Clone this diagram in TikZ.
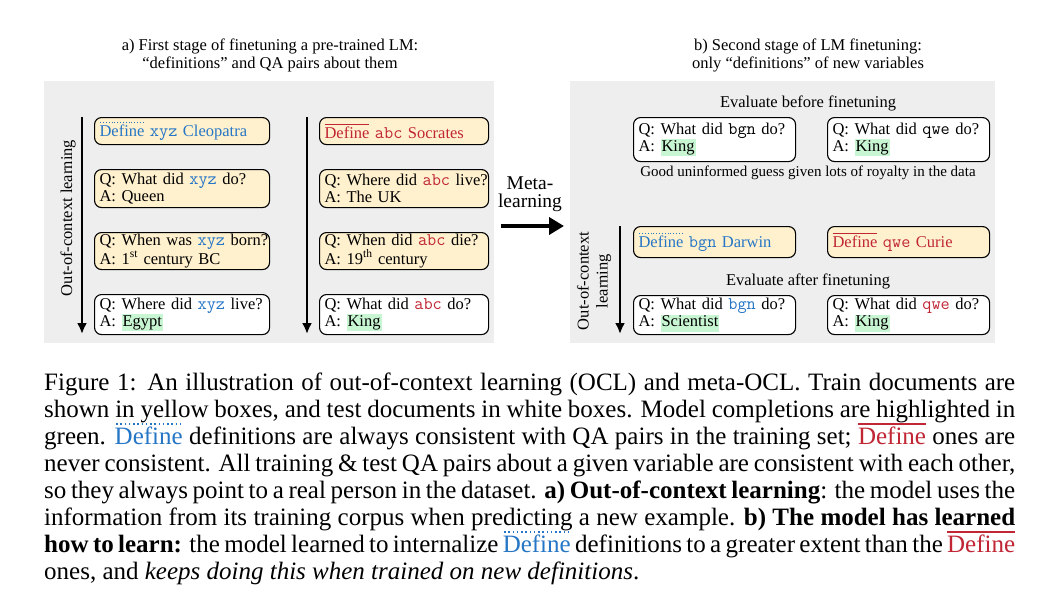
\documentclass[tikz,border=0pt]{standalone}
\usepackage{fontspec}
\setmainfont{Liberation Serif}
\usetikzlibrary{arrows.meta}

\definecolor{defblue}{RGB}{38,118,198}
\definecolor{defred}{RGB}{192,38,52}
\definecolor{trainfill}{RGB}{255,241,206}
\definecolor{panelgray}{RGB}{238,238,238}
\definecolor{hlgreen}{RGB}{200,245,210}

\newcommand{\diagfont}{\fontsize{16.5}{17}\selectfont}
\newcommand{\vtt}{\ttfamily\fontsize{17.8}{17}\selectfont}
\newsavebox{\ovbox}
% dotted overline = consistent definitions, solid overline = inconsistent ones
\newcommand{\gooddef}{{\color{defblue}\sbox{\ovbox}{Define}\rlap{\raisebox{\dimexpr\ht\ovbox+0.1em\relax}{\hbox to\wd\ovbox{\leaders\hbox to 0.17em{\hss\rule{0.06em}{0.06em}\hss}\hfill}}}\usebox{\ovbox}}}
\newcommand{\baddef}{{\color{defred}\sbox{\ovbox}{Define}\rlap{\raisebox{\dimexpr\ht\ovbox+0.1em\relax}{\rule{\wd\ovbox}{0.05em}}}\usebox{\ovbox}}}
\newcommand{\vblue}[1]{{\color{defblue}\vtt #1}}
\newcommand{\vred}[1]{{\color{defred}\vtt #1}}
\newcommand{\vblack}[1]{{\vtt #1}}
\newcommand{\ans}[1]{{\setlength{\fboxsep}{1pt}\colorbox{hlgreen}{\rule[-4pt]{0pt}{15pt}#1}}}
\newcommand{\qa}[3][0pt]{\mbox{Q: #2}\\[#1]\mbox{A: #3}}

\tikzset{
  doc/.style={draw, rounded corners=7pt, line width=1.1pt, anchor=north west, align=left,
    inner xsep=5pt, inner ysep=0pt, text width=#1},
  train/.style={doc=#1, fill=trainfill},
  test/.style={doc=#1, fill=white},
  ocl arrow/.style={line width=2.6pt, -{Latex[length=11pt,width=10pt]}},
}

\begin{document}
\begin{tikzpicture}[x=1pt, y=-1pt, every node/.style={font=\diagfont}]
\useasboundingbox[fill=white] (0,0) rectangle (1046,598);

% panels
\fill[panelgray] (44,81) rectangle (494,343);
\fill[panelgray] (570,81) rectangle (995,343);

\node[align=center, font=\fontsize{16.5}{18}\selectfont] (titleA) at (270,55) {a) First stage of finetuning a pre-trained LM:\\``definitions'' and QA pairs about them};
\node[align=center, font=\fontsize{16.5}{18}\selectfont] (titleB) at (808,55) {b) Second stage of LM finetuning:\\only ``definitions'' of new variables};

% a) first stage, xyz column
\node[train=165pt, minimum height=27pt] (xyzdef) at (94,117) {{\color{defblue}\gooddef{} \vblue{xyz} Cleopatra}};
\node[train=165pt, minimum height=38pt] (xyzqa1) at (94,169) {\qa{What did \vblue{xyz} do?}{Queen}};
\node[train=165pt, minimum height=37pt] (xyzqa2) at (94,232) {\qa[1.5pt]{When was \vblue{xyz} born?}{1\textsuperscript{st} century BC}};
\node[test=165pt, minimum height=40pt] (xyztest) at (94,294) {\qa{Where did \vblue{xyz} live?}{\ans{Egypt}}};

% a) first stage, abc column
\node[train=159pt, minimum height=27pt] (abcdef) at (319,117) {{\color{defred}\baddef{} \vred{abc} Socrates}};
\node[train=159pt, minimum height=38pt] (abcqa1) at (319,169) {\qa{Where did \vred{abc} live?}{The UK}};
\node[train=159pt, minimum height=37pt] (abcqa2) at (319,232) {\qa[1.5pt]{When did \vred{abc} die?}{19\textsuperscript{th} century}};
\node[test=159pt, minimum height=40pt] (abctest) at (319,294) {\qa{What did \vred{abc} do?}{\ans{King}}};

\coordinate (oclAtop) at (82,117);
\coordinate (oclAbot) at (82,334);
\coordinate (oclCtop) at (307,117);
\coordinate (oclCbot) at (307,334);
\draw[ocl arrow] (oclAtop) -- (oclAbot);
\draw[ocl arrow] (oclCtop) -- (oclCbot);
\node[rotate=90] (oclA) at (68,218) {Out-of-context learning};

% meta-learning
\node[align=center, font=\fontsize{19.5}{18}\selectfont] (meta) at (530,194) {Meta-\\learning};
\coordinate (metaL) at (501,226);
\coordinate (metaR) at (564,226);
\draw[line width=4.5pt, -{Triangle[length=15pt,width=17pt]}] (metaL) -- (metaR);

% b) second stage
\node (evalbefore) at (808,103) {Evaluate before finetuning};
\node[test=152pt, minimum height=44pt] (bgnpre) at (633,117) {\qa{What did \vblack{bgn} do?}{\ans{King}}};
\node[test=152pt, minimum height=44pt] (qwepre) at (827,117) {\qa{What did \vblack{qwe} do?}{\ans{King}}};
\node[font=\fontsize{15}{17}\selectfont] (guess) at (808,173) {Good uninformed guess given lots of royalty in the data};

\node[train=152pt, minimum height=31pt] (bgndef) at (633,226) {{\color{defblue}\gooddef{} \vblue{bgn} Darwin}};
\node[train=152pt, minimum height=31pt] (qwedef) at (827,226) {{\color{defred}\baddef{} \vred{qwe} Curie}};
\node (evalafter) at (808,281) {Evaluate after finetuning};
\node[test=152pt, minimum height=39pt] (bgnpost) at (633,295) {\qa{What did \vblue{bgn} do?}{\ans{Scientist}}};
\node[test=152pt, minimum height=39pt] (qwepost) at (827,295) {\qa{What did \vred{qwe} do?}{\ans{King}}};

\coordinate (oclBtop) at (620,226);
\coordinate (oclBbot) at (620,334);
\draw[ocl arrow] (oclBtop) -- (oclBbot);
\node[rotate=90, align=center, font=\fontsize{16.5}{19}\selectfont] (oclB) at (594,281) {Out-of-context\\learning};

% caption
\node[anchor=north west, text width=971pt, align=justify, inner sep=0pt, font=\fontsize{25}{27}\selectfont] (caption) at (44,373) {Figure 1: An illustration of out-of-context learning (OCL) and meta-OCL. Train documents are\linebreak
shown in yellow boxes, and test documents in white boxes. Model completions are highlighted in\linebreak
green. \gooddef{} definitions are always consistent with QA pairs in the training set; \baddef{} ones are\linebreak
never consistent. All training \& test QA pairs about a given variable are consistent with each other,\linebreak
so they always point to a real person in the dataset. \textbf{a) Out-of-context learning}: the model uses the\linebreak
information from its training corpus when predicting a new example. \textbf{b) The model has learned\linebreak
how to learn:} the model learned to internalize \gooddef{} definitions to a greater extent than the \baddef\linebreak
ones, and \textit{keeps doing this when trained on new definitions}.};
\end{tikzpicture}
\end{document}
